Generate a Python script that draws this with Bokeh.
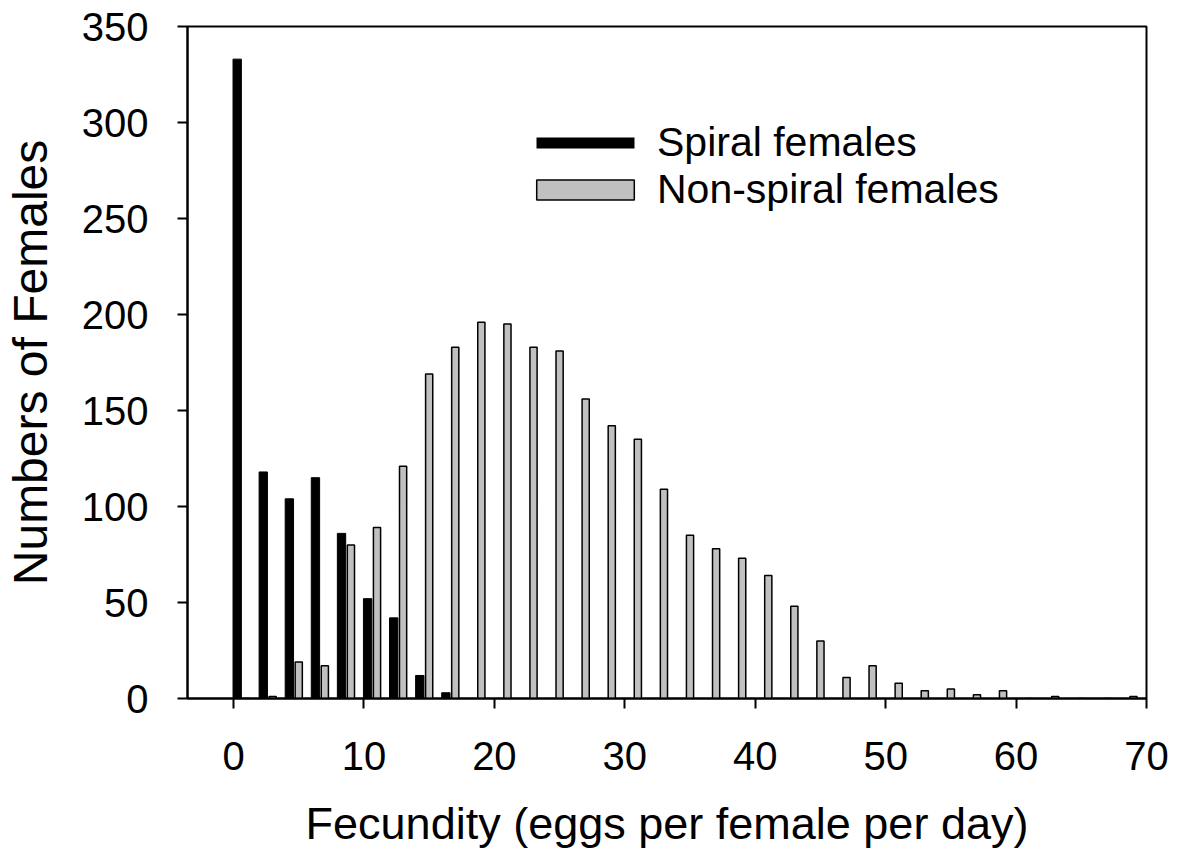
from bokeh.plotting import figure
from bokeh.models import Range1d, Legend, LegendItem, FixedTicker, ColumnDataSource
from bokeh.transform import dodge
from bokeh.embed import file_html
from bokeh.resources import INLINE

# Bin centres (eggs per female per day)
bins = [1, 3, 5, 7, 9, 11, 13, 15, 17, 19, 21, 23, 25, 27, 29, 31, 33, 35,
        37, 39, 41, 43, 45, 47, 49, 51, 53, 55, 57, 59, 61, 63, 65, 67, 69]
spiral = [333, 118, 104, 115, 86, 52, 42, 12, 3, 0, 0, 0, 0, 0, 0, 0, 0, 0,
          0, 0, 0, 0, 0, 0, 0, 0, 0, 0, 0, 0, 0, 0, 0, 0, 0]
non_spiral = [0, 1, 19, 17, 80, 89, 121, 169, 183, 196, 195, 183, 181, 156,
              142, 135, 109, 85, 78, 73, 64, 48, 30, 11, 17, 8, 4, 5, 2, 4,
              0, 1, 0, 0, 1]
x_ticks = [0, 10, 20, 30, 40, 50, 60, 70]
y_ticks = [0, 50, 100, 150, 200, 250, 300, 350]

FONT = "Liberation Sans"
NAN = float("nan")

src = ColumnDataSource(dict(x=bins, s=spiral, n=non_spiral))

p = figure(frame_width=959, frame_height=672, output_backend="svg",
           toolbar_location=None, x_range=Range1d(-3.53, 70),
           y_range=Range1d(0, 350),
           min_border_left=185, min_border_top=26, min_border_right=24,
           min_border_bottom=10)
p.background_fill_color = "white"
p.border_fill_color = "white"
p.grid.visible = False
p.outline_line_color = "black"
p.outline_line_width = 2

sp = p.vbar(x=dodge("x", -0.72, range=p.x_range), top="s", width=0.64,
            source=src, fill_color="black", line_color="black", line_width=1)
ns = p.vbar(x="x", top="n", width=0.55, source=src, fill_color="#c0c0c0",
            line_color="black", line_width=1.5)

# legend proxies (a single NaN point: nothing is drawn in the plot area)
leg_s = p.line(x=[NAN], y=[NAN], line_color="black", line_width=11,
               line_dash="98 400", line_dash_offset=486)
leg_n = p.vbar(x=[NAN], top=[NAN], width=0.5, fill_color="#c0c0c0",
               line_color="black", line_width=1.5)

legend = Legend(items=[LegendItem(label="Spiral females", renderers=[leg_s]),
                       LegendItem(label="Non-spiral females", renderers=[leg_n])],
                location=(337, 485), padding=0, margin=0, spacing=0,
                glyph_width=122, glyph_height=25, label_height=25,
                label_standoff=11, border_line_color=None,
                background_fill_alpha=0,
                label_text_font=FONT, label_text_font_size="41px",
                label_text_color="black")
p.add_layout(legend)

for ax in (p.xaxis[0], p.yaxis[0]):
    ax.axis_line_width = 2
    ax.axis_line_color = "black"
    ax.major_tick_line_width = 2
    ax.major_tick_line_color = "black"
    ax.major_tick_in = 0
    ax.major_tick_out = 10
    ax.minor_tick_line_color = None
    ax.major_label_text_font = FONT
    ax.major_label_text_font_size = "40px"
    ax.major_label_text_color = "black"
    ax.axis_label_text_font = FONT
    ax.axis_label_text_font_style = "normal"
    ax.axis_label_text_color = "black"

p.xaxis.major_label_standoff = 33
p.yaxis.major_label_standoff = 29
p.xaxis.ticker = FixedTicker(ticks=x_ticks)
p.yaxis.ticker = FixedTicker(ticks=y_ticks)
p.xaxis.axis_label = "Fecundity (eggs per female per day)"
p.yaxis.axis_label = "Numbers of Females"
p.xaxis.axis_label_text_font_size = "45px"
p.yaxis.axis_label_text_font_size = "48px"
p.xaxis.axis_label_standoff = 25
p.yaxis.axis_label_standoff = 22

open("out.html", "w").write(file_html(p, INLINE))
